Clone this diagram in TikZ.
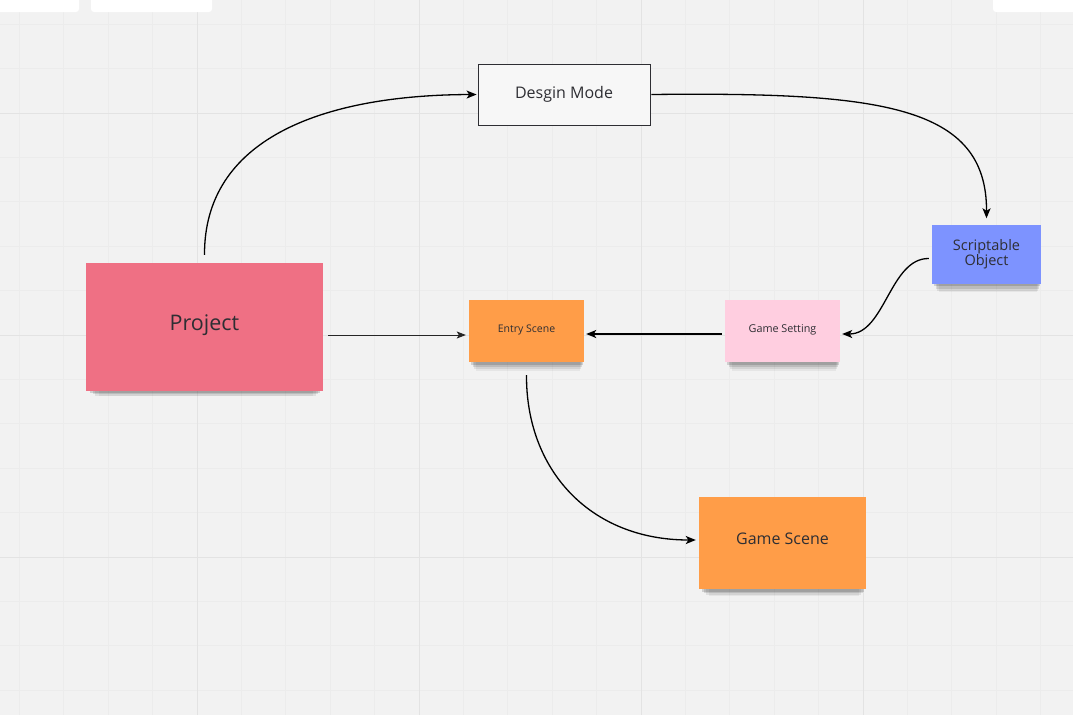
\documentclass[tikz,border=0pt]{standalone}
\usepackage{fontspec}
\setmainfont{Open Sans}
\usetikzlibrary{arrows.meta,shadows}
\definecolor{bgc}{HTML}{F2F2F2}
\definecolor{minorc}{HTML}{ECECEC}
\definecolor{majorc}{HTML}{E3E3E3}
\definecolor{textc}{HTML}{2E2E33}
\definecolor{projc}{HTML}{EF7084}
\definecolor{orangec}{HTML}{FF9D48}
\definecolor{pinkc}{HTML}{FFCEE0}
\definecolor{bluec}{HTML}{7D93FF}
\tikzset{
  sticky/.style={draw=none, align=center, text=textc, inner sep=0pt,
    general shadow={fill=black, opacity=0.05, shadow yshift=-13pt, shadow xshift=1.5pt, shadow scale=0.90},
    general shadow={fill=black, opacity=0.08, shadow yshift=-10pt, shadow xshift=1pt, shadow scale=0.93},
    general shadow={fill=black, opacity=0.11, shadow yshift=-7pt, shadow xshift=1pt, shadow scale=0.95},
    general shadow={fill=black, opacity=0.14, shadow yshift=-4pt, shadow xshift=0.5pt, shadow scale=0.97}},
  framebox/.style={draw=textc, line width=0.8pt, fill=bgc!60!white, text=textc, inner sep=0pt},
  conn/.style={draw=black, line width=1.3pt, -{Stealth[length=10pt,width=8pt,inset=2.5pt]}},
  thinconn/.style={draw=black!85, line width=0.9pt, -{Stealth[length=9pt,width=7pt,inset=2pt]}},
  uibar/.style={fill=white, draw=none, rounded corners=3pt}
}
\begin{document}
\begin{tikzpicture}[x=1pt,y=-1pt]
\useasboundingbox (0,0) rectangle (1073,715);
\fill[bgc] (0,0) rectangle (1073,715);
% grid
\foreach \i in {-4,...,19} {
  \pgfmathsetmacro\gx{197+44.4*\i}
  \draw[minorc, line width=0.7pt] (\gx,0) -- (\gx,715);
}
\foreach \j in {-2,...,13} {
  \pgfmathsetmacro\gy{113+44.4*\j}
  \draw[minorc, line width=0.7pt] (0,\gy) -- (1073,\gy);
}
\foreach \gx in {197,419,641,863} \draw[majorc, line width=1pt] (\gx,0) -- (\gx,715);
\foreach \gy in {113,335,557} \draw[majorc, line width=1pt] (0,\gy) -- (1073,\gy);
% ui bars
\fill[uibar] (-5,-5) rectangle (79,12);
\fill[uibar] (91,-5) rectangle (212,12);
\fill[uibar] (993,-5) rectangle (1078,12);
% nodes
\node[framebox, minimum width=172pt, minimum height=61pt, text depth=5pt, font=\fontsize{16}{19}\selectfont] (dm) at (564,94.5) {Desgin Mode};
\node[sticky, fill=projc, minimum width=237pt, minimum height=128pt, text depth=8pt, font=\fontsize{21.5}{25}\selectfont] (proj) at (204.5,327) {Project};
\node[sticky, fill=orangec, minimum width=115pt, minimum height=62pt, text depth=4pt, font=\fontsize{10.5}{13}\selectfont] (entry) at (526.5,331) {Entry Scene};
\node[sticky, fill=pinkc, minimum width=115pt, minimum height=62pt, text depth=4pt, font=\fontsize{10.8}{13}\selectfont] (gs) at (782.5,331) {Game Setting};
\node[sticky, fill=bluec, minimum width=109pt, minimum height=59pt, font=\fontsize{14.5}{17}\selectfont] (so) at (986.5,254) {Scriptable\\[-2pt]Object};
\node[sticky, fill=orangec, minimum width=167pt, minimum height=92pt, text depth=8pt, font=\fontsize{16}{19}\selectfont] (gsc) at (782.5,543) {Game Scene};
% connectors
\draw[conn] ([yshift=8pt]proj.north) .. controls (204,140) and (320,95) .. ([xshift=-1pt]dm.west);
\draw[conn] ([xshift=1pt]dm.east) .. controls (880,92) and (987,105) .. ([yshift=6pt]so.north);
\draw[conn] ([xshift=-3pt,yshift=-4.5pt]so.west) .. controls (890,258) and (885,334) .. ([xshift=2pt,yshift=-3pt]gs.east);
\draw[conn] ([xshift=-3pt,yshift=-3pt]gs.west) -- ([xshift=2pt,yshift=-3pt]entry.east);
\draw[thinconn] ([xshift=5pt,yshift=-8pt]proj.east) -- ([xshift=-3pt,yshift=-4pt]entry.west);
\draw[conn] ([yshift=-13pt]entry.south) .. controls (526,470) and (590,540) .. ([xshift=-3pt,yshift=3pt]gsc.west);
\end{tikzpicture}
\end{document}
